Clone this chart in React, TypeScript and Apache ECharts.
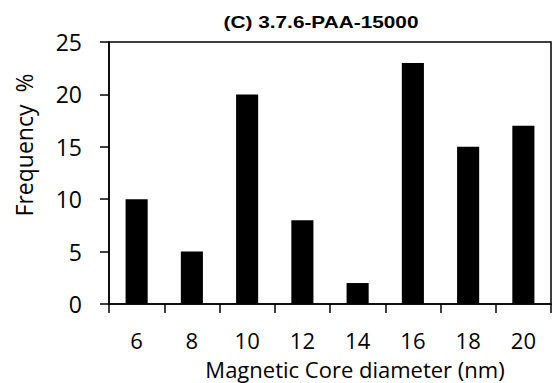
import React, { useEffect, useRef } from "react";
import * as echarts from "echarts";

const categories = ["6", "8", "10", "12", "14", "16", "18", "20"];
const frequency = [10, 5, 20, 8, 2, 23, 15, 17];
const yTicks = { min: 0, max: 25, interval: 5 };

const titleText = "(C) 3.7.6-PAA-15000";
const xTitle = "Magnetic Core diameter (nm)";
const yTitle = "Frequency  %";

const axisFont = "'Open Sans', sans-serif";

export default function App() {
  const ref = useRef<HTMLDivElement>(null);

  useEffect(() => {
    if (!ref.current) return;
    const chart = echarts.init(ref.current, undefined, { renderer: "svg" });
    chart.setOption({
      animation: false,
      backgroundColor: "#ffffff",
      grid: {
        left: 109,
        right: 1,
        top: 42,
        bottom: 79,
        show: true,
        borderColor: "#000",
        borderWidth: 1.5,
      },
      xAxis: {
        type: "category",
        data: categories,
        boundaryGap: true,
        axisLine: { lineStyle: { color: "#000", width: 1.5 } },
        axisTick: { show: true, inside: false, length: 9, lineStyle: { color: "#000", width: 1.5 } },
        axisLabel: { color: "#000", fontSize: 22, lineHeight: 18, fontFamily: axisFont, margin: 27 },
        splitLine: { show: false },
      },
      yAxis: {
        type: "value",
        min: yTicks.min,
        max: yTicks.max,
        interval: yTicks.interval,
        axisLine: { show: true, lineStyle: { color: "#000", width: 1.5 } },
        axisTick: { show: true, inside: false, length: 9, lineStyle: { color: "#000", width: 1.5 } },
        axisLabel: { color: "#000", fontSize: 23, lineHeight: 18, fontFamily: axisFont, margin: 27 },
        splitLine: { show: false },
      },
      series: [
        {
          type: "bar",
          data: frequency,
          barWidth: "40%",
          itemStyle: { color: "#000" },
        },
      ],
      graphic: [
        {
          type: "text",
          x: 321,
          y: 22,
          scaleX: 1.3,
          style: {
            text: titleText,
            font: "bold 16px 'Liberation Sans', Arial, sans-serif",
            fill: "#000",
            align: "center",
            verticalAlign: "middle",
          },
        },
        {
          type: "text",
          x: 355,
          y: 369,
          style: {
            text: xTitle,
            font: `22px ${axisFont}`,
            lineHeight: 18,
            fill: "#000",
            align: "center",
            verticalAlign: "middle",
          },
        },
        {
          type: "text",
          x: 24,
          y: 145,
          rotation: Math.PI / 2,
          style: {
            text: yTitle,
            font: `23px ${axisFont}`,
            fill: "#000",
            align: "center",
            verticalAlign: "middle",
          },
        },
      ],
    });
    return () => chart.dispose();
  }, []);

  return <div ref={ref} style={{ width: 552, height: 383, position: "absolute", left: 0, top: 0 }} />;
}
